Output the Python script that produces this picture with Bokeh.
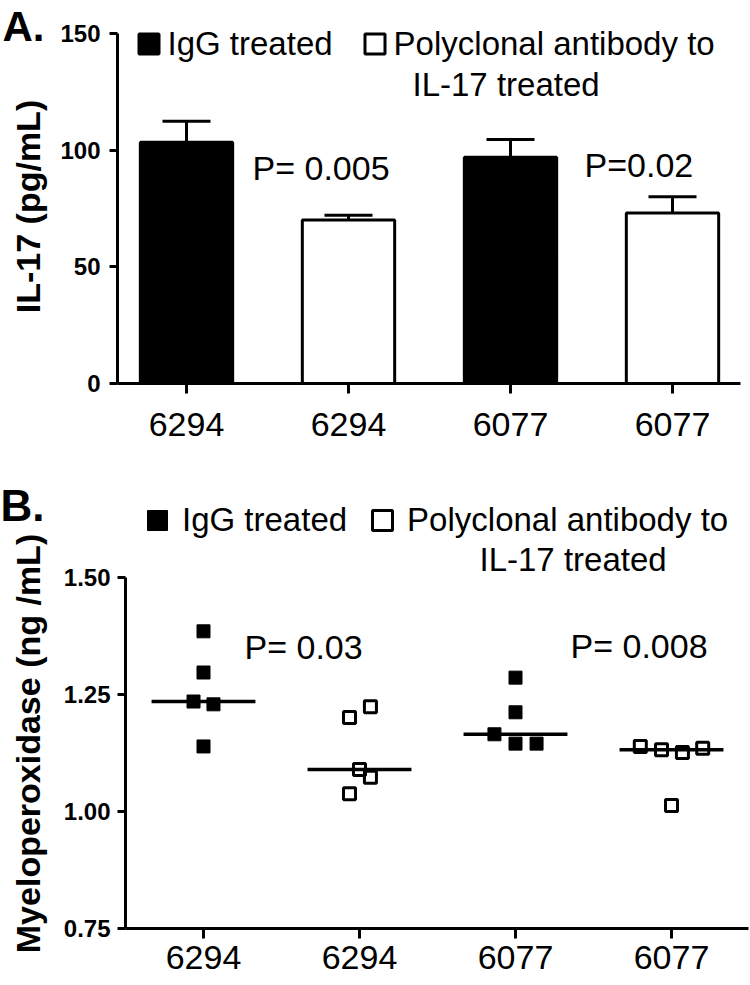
import numpy as np
from bokeh.plotting import figure
from bokeh.layouts import column
from bokeh.models import (ColumnDataSource, FixedTicker, Whisker, TeeHead, Label,
                          Legend, LegendItem, Range1d)
from bokeh.embed import file_html
from bokeh.resources import INLINE

FONT = "Liberation Sans"

# ---------------- data ----------------
mouse_labels = ["6294", "6294", "6077", "6077"]
treatment = ["IgG treated", "Polyclonal antibody to IL-17 treated",
             "IgG treated", "Polyclonal antibody to IL-17 treated"]
legend_line1 = ["IgG treated", "Polyclonal antibody to"]
legend_line2 = "IL-17 treated"

il17_mean = [103.4, 70.1, 97.0, 73.1]
il17_sem = [9.0, 2.0, 7.6, 6.9]
il17_ticks = [0, 50, 100, 150]
il17_pvalues = ["P= 0.005", "P=0.02"]

mpo_6294_igg = [1.385, 1.297, 1.235, 1.229, 1.139]
mpo_6294_pab = [1.201, 1.224, 1.090, 1.073, 1.038]
mpo_6077_igg = [1.286, 1.212, 1.165, 1.145, 1.145]
mpo_6077_pab = [1.139, 1.132, 1.126, 1.135, 1.013]
mpo_ticks = [0.75, 1.00, 1.25, 1.50]
mpo_tick_labels = ["0.75", "1.00", "1.25", "1.50"]
mpo_pvalues = ["P= 0.03", "P= 0.008"]

# horizontal spread of the dots inside each column (category units)
jit_6294_igg = [0.0, 0.0, -0.064, 0.064, 0.0]
jit_6294_pab = [-0.064, 0.07, 0.0, 0.07, -0.064]
jit_6077_igg = [0.0, 0.0, -0.135, 0.0, 0.135]
jit_6077_pab = [-0.2, -0.064, 0.07, 0.2, 0.0]

mpo_groups = [mpo_6294_igg, mpo_6294_pab, mpo_6077_igg, mpo_6077_pab]
mpo_jitter = [jit_6294_igg, jit_6294_pab, jit_6077_igg, jit_6077_pab]

idx = list(range(len(mouse_labels)))

# ---------------- page geometry (pixels) ----------------
W = 750
HA, HB = 480, 504
TOP_B = HA


# panel A: category 0 at x=186, 162 px per category; value 0 at y=383, 350 px per 150
def ax(px):
    return (px - 186) / 162.0


def ay(py):
    return (383 - py) / (350 / 150.0)


# panel B: category 0 at x=203, 156 px per category; 0.75 at y=928, 468 px per unit
def bx(px):
    return (px - 203) / 156.0


def by(py):
    return 0.75 + (928 - py) / 468.0


def base_style(p):
    p.outline_line_color = None
    p.grid.visible = False
    p.background_fill_color = "white"
    p.border_fill_color = "white"
    for a in (p.xaxis[0], p.yaxis[0]):
        a.axis_line_width = 3
        a.axis_line_color = "black"
        a.major_tick_line_width = 3
        a.major_tick_line_color = "black"
        a.major_tick_in = 0
        a.minor_tick_line_color = None
        a.major_label_text_color = "black"
        a.major_label_text_font = FONT
    p.xaxis.ticker = FixedTicker(ticks=idx)
    p.xaxis.major_label_overrides = {i: mouse_labels[i] for i in idx}
    p.xaxis.major_tick_out = 10
    p.xaxis.major_label_text_font_size = "34px"
    p.yaxis.major_tick_out = 8
    p.yaxis.major_label_text_font_size = "24px"
    p.yaxis.major_label_text_font_style = "bold"


def add_text(p, x, y, text, size="34px", style="normal", angle=0.0, align="left"):
    p.add_layout(Label(x=x, y=y, text=text, text_font=FONT, text_font_size=size,
                       text_font_style=style, text_color="black", angle=angle,
                       text_baseline="middle", text_align=align))


# ---------------- Panel A ----------------
p1 = figure(width=W, height=HA, title=None,
            x_range=Range1d(ax(0), ax(W)), y_range=Range1d(ay(HA), ay(0)),
            output_backend="svg", toolbar_location=None, min_border=0)
base_style(p1)
p1.yaxis.ticker = FixedTicker(ticks=il17_ticks)
p1.yaxis.fixed_location = ax(117)
p1.yaxis.bounds = (il17_ticks[0], il17_ticks[-1])
p1.yaxis.major_label_standoff = 9
p1.xaxis.fixed_location = 0
p1.xaxis.bounds = (ax(117), ax(740))
p1.xaxis.major_label_standoff = 19

igg_i = [i for i in idx if treatment[i] == "IgG treated"]
pab_i = [i for i in idx if treatment[i] != "IgG treated"]
src_igg = ColumnDataSource(dict(x=igg_i, top=[il17_mean[i] for i in igg_i]))
src_pab = ColumnDataSource(dict(x=pab_i, top=[il17_mean[i] for i in pab_i]))
r_igg = p1.vbar(x="x", top="top", bottom=0, width=0.57, source=src_igg,
                fill_color="black", line_color="black", line_width=3)
r_pab = p1.vbar(x="x", top="top", bottom=0, width=0.57, source=src_pab,
                fill_color="white", line_color="black", line_width=3)

err_src = ColumnDataSource(dict(base=idx, lower=il17_mean,
                                upper=[m + s for m, s in zip(il17_mean, il17_sem)]))
p1.add_layout(Whisker(base="base", lower="lower", upper="upper", source=err_src,
                      dimension="height", line_width=3, line_color="black",
                      upper_head=TeeHead(size=48, line_width=3, line_color="black"),
                      lower_head=None))

leg1 = Legend(items=[LegendItem(label=legend_line1[0], renderers=[r_igg]),
                     LegendItem(label=legend_line1[1], renderers=[r_pab])],
              orientation="horizontal", location=(135.5, HA - 62.5),
              glyph_width=25, glyph_height=25, label_standoff=7, spacing=29,
              padding=0, margin=0, border_line_color=None, background_fill_alpha=0,
              label_text_font=FONT, label_text_font_size="33px", label_text_color="black")
p1.add_layout(leg1)

add_text(p1, ax(412), ay(83.5), legend_line2, size="33px")
add_text(p1, ax(252), ay(167), il17_pvalues[0])
add_text(p1, ax(584), ay(164), il17_pvalues[1])
add_text(p1, ax(2), ay(26), "A.", size="42px", style="bold")
add_text(p1, ax(27), ay(206), "IL-17 (pg/mL)", size="34px", style="bold",
         angle=np.pi / 2, align="center")

# ---------------- Panel B ----------------
p2 = figure(width=W, height=HB, title=None,
            x_range=Range1d(bx(0), bx(W)), y_range=Range1d(by(TOP_B + HB), by(TOP_B)),
            output_backend="svg", toolbar_location=None, min_border=0)
base_style(p2)
p2.yaxis.ticker = FixedTicker(ticks=mpo_ticks)
p2.yaxis.major_label_overrides = {t: l for t, l in zip(mpo_ticks, mpo_tick_labels)}
p2.yaxis.fixed_location = bx(125)
p2.yaxis.bounds = (mpo_ticks[0], mpo_ticks[-1])
p2.yaxis.major_label_standoff = 7
p2.xaxis.fixed_location = mpo_ticks[0]
p2.xaxis.bounds = (bx(125), bx(W - 2))
p2.xaxis.major_label_standoff = 7

renders = []
for i in idx:
    xs = [i + j for j in mpo_jitter[i]]
    ys = mpo_groups[i]
    if treatment[i] == "IgG treated":
        r = p2.scatter(xs, ys, marker="square", size=13, fill_color="black",
                       line_color="black", line_width=1)
    else:
        r = p2.scatter(xs, ys, marker="square", size=12, fill_color=None,
                       line_color="black", line_width=3)
    renders.append(r)

med = [float(np.median(g)) for g in mpo_groups]
p2.segment(x0=[i - 0.333 for i in idx], x1=[i + 0.333 for i in idx], y0=med, y1=med,
           line_width=3.5, line_color="black")

leg2 = Legend(items=[LegendItem(label=legend_line1[0], renderers=[renders[0]]),
                     LegendItem(label=legend_line1[1], renderers=[renders[1]])],
              orientation="horizontal", location=(132, HB - (545 - TOP_B)),
              glyph_width=50, glyph_height=50, label_standoff=-3, spacing=10,
              padding=0, margin=0, border_line_color=None, background_fill_alpha=0,
              label_text_font=FONT, label_text_font_size="33px", label_text_color="black")
p2.add_layout(leg2)

add_text(p2, bx(479), by(559), legend_line2, size="33px")
add_text(p2, bx(244), by(646), mpo_pvalues[0])
add_text(p2, bx(570), by(645), mpo_pvalues[1])
add_text(p2, bx(0), by(505), "B.", size="44px", style="bold")
add_text(p2, bx(27), by(743), "Myeloperoxidase (ng /mL)", size="34px", style="bold",
         angle=np.pi / 2, align="center")

layout = column(p1, p2, spacing=0)
open("out.html", "w").write(file_html(layout, INLINE))
